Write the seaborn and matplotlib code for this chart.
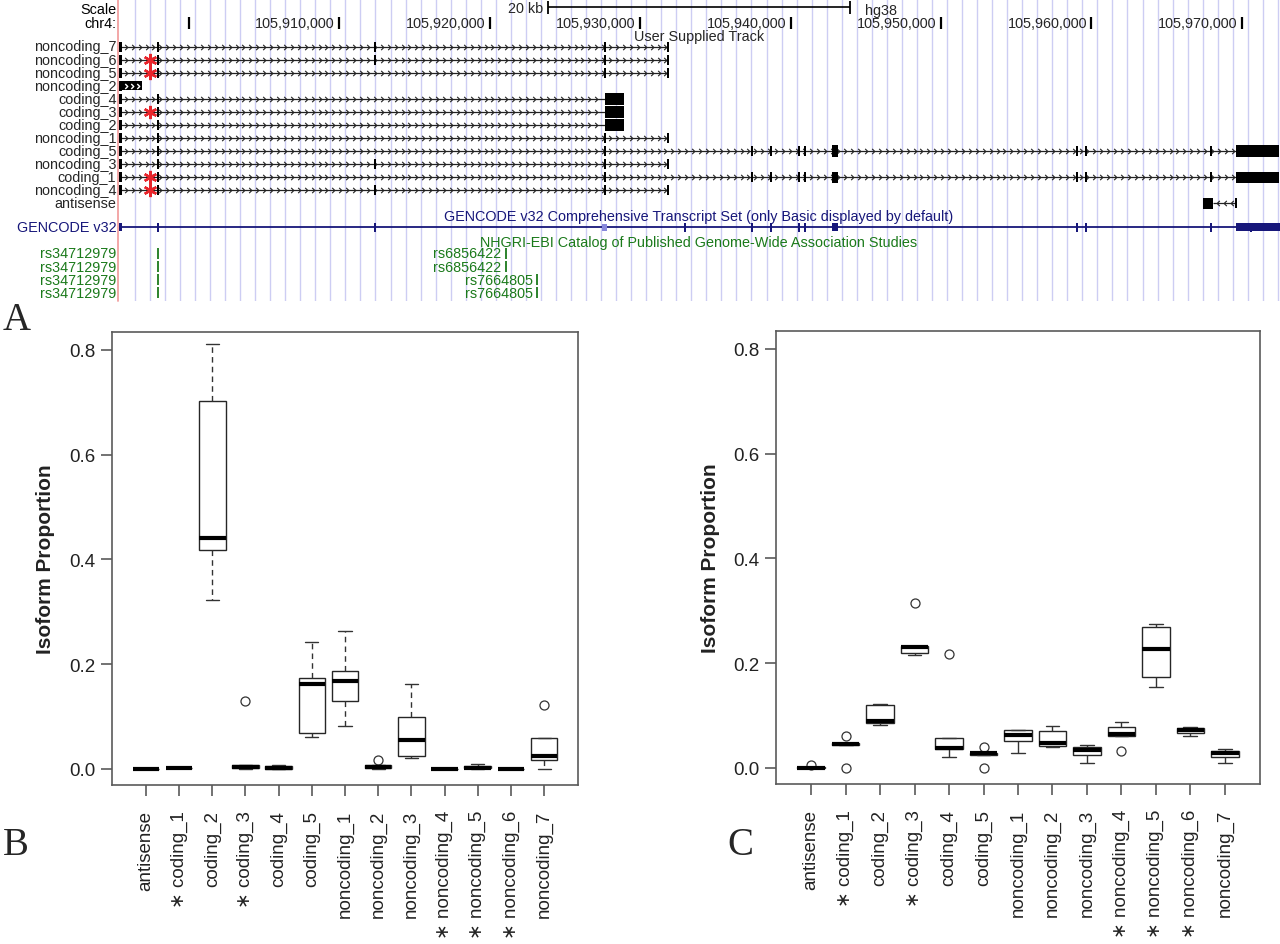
import numpy as np
import pandas as pd
import matplotlib
matplotlib.use("Agg")
import matplotlib.pyplot as plt
from matplotlib.path import Path
from matplotlib.patches import Rectangle
import seaborn as sns

# ---------------- data: panels B and C ----------------
isoforms = ["antisense", "coding_1", "coding_2", "coding_3", "coding_4", "coding_5",
            "noncoding_1", "noncoding_2", "noncoding_3", "noncoding_4", "noncoding_5",
            "noncoding_6", "noncoding_7"]
starred = ["coding_1", "coding_3", "noncoding_4", "noncoding_5", "noncoding_6"]

# five observed proportions per isoform (sorted low -> high), panel B
b_v1 = [0.0, 0.001, 0.323, 0.000, 0.0000, 0.060, 0.082, 0.000, 0.020, 0.0, 0.000, 0.0, 0.000]
b_v2 = [0.0, 0.001, 0.418, 0.001, 0.0005, 0.068, 0.129, 0.002, 0.025, 0.0, 0.001, 0.0, 0.017]
b_v3 = [0.0, 0.001, 0.441, 0.003, 0.0020, 0.162, 0.168, 0.004, 0.054, 0.0, 0.002, 0.0, 0.025]
b_v4 = [0.0, 0.001, 0.703, 0.007, 0.0050, 0.173, 0.186, 0.007, 0.099, 0.0, 0.005, 0.0, 0.058]
b_v5 = [0.0, 0.001, 0.812, 0.129, 0.0070, 0.243, 0.263, 0.017, 0.161, 0.0, 0.009, 0.0, 0.1225]

# panel C
c_v1 = [0.0,    0.0,    0.082, 0.2146, 0.021,  0.0,    0.029,  0.0395, 0.0096, 0.032,  0.154,  0.0605, 0.0096]
c_v2 = [0.0,    0.043,  0.085, 0.2200, 0.035,  0.025,  0.051,  0.0414, 0.0242, 0.0605, 0.174,  0.0656, 0.021]
c_v3 = [0.0005, 0.045,  0.089, 0.2300, 0.0376, 0.0275, 0.0624, 0.0478, 0.0330, 0.0637, 0.2274, 0.0730, 0.0287]
c_v4 = [0.001,  0.048,  0.120, 0.2325, 0.056,  0.029,  0.0713, 0.0700, 0.0389, 0.0777, 0.2688, 0.0750, 0.032]
c_v5 = [0.005,  0.0605, 0.122, 0.3150, 0.2166, 0.039,  0.0730, 0.0796, 0.0440, 0.0880, 0.2750, 0.0777, 0.035]

y_ticks = [0.0, 0.2, 0.4, 0.6, 0.8]
y_tick_labels = ["0.0", "0.2", "0.4", "0.6", "0.8"]
y_label = "Isoform Proportion"

# ---------------- data: panel A (genome browser, kb from chr4:105,900,000) ----------------
view_kb = [-4.72, 72.54]
chr_ticks_kb = [0, 10, 20, 30, 40, 50, 60, 70]
chr_tick_labels = ["", "105,910,000", "105,920,000", "105,930,000", "105,940,000",
                   "105,950,000", "105,960,000", "105,970,000"]
scale_bar_kb = [23.87, 43.95]
grid_kb = list(np.arange(-3.6, 72.6, 1.0))

track_names = ["noncoding_7", "noncoding_6", "noncoding_5", "noncoding_2", "coding_4",
               "coding_3", "coding_2", "noncoding_1", "coding_5", "noncoding_3",
               "coding_1", "noncoding_4", "antisense"]
track_start = [-4.55] * 12 + [68.09]
track_end = [31.85, 31.85, 31.85, -3.15, 27.66, 27.66, 27.66, 31.85, 69.61, 31.85, 69.61, 31.85, 69.61]
track_strand = ["+"] * 12 + ["-"]
track_exons = [
    [-2.06, 12.37, 27.66, 31.85],
    [-2.06, 12.37, 27.66, 31.85],
    [-2.06, 27.66, 31.85],
    [],
    [-2.06],
    [-2.06],
    [-2.06],
    [-2.06, 27.66, 31.85],
    [-2.06, 27.66, 37.43, 38.70, 40.56, 40.96, 59.04, 59.64, 67.95],
    [-2.06, 12.37, 27.66, 31.85],
    [-2.06, 27.66, 37.43, 38.70, 40.56, 40.96, 59.04, 59.64, 67.95],
    [-2.06, 12.37, 27.66, 31.85],
    [69.61],
]
track_first_exon = [(-4.66, -4.44)] * 12 + [None]
track_cds = [[], [], [], [], [(27.66, 28.92)], [(27.66, 28.92)], [(27.66, 28.92)], [],
             [(42.75, 43.15), (69.61, 72.45)], [], [(42.75, 43.15), (69.61, 72.45)], [],
             [(67.42, 68.09)]]
track_nc_blocks = [[], [], [], [(-4.6, -3.15)], [], [], [], [], [], [], [], [], []]
snp_star_kb = -2.59
snp_star_tracks = ["noncoding_6", "noncoding_5", "coding_3", "coding_1", "noncoding_4"]

gencode_exons = [-2.06, 12.37, 32.98, 37.43, 38.70, 40.56, 40.96, 59.04, 59.64, 67.95, 70.6]
gencode_blocks = [(-4.66, -4.44), (42.75, 43.15), (69.61, 72.54)]
gencode_light = [(27.45, 27.8)]

gwas_names = ["rs34712979", "rs34712979", "rs34712979", "rs34712979",
              "rs6856422", "rs6856422", "rs7664805", "rs7664805"]
gwas_kb = [-2.06, -2.06, -2.06, -2.06, 21.08, 21.08, 23.14, 23.14]
gwas_row = [0, 1, 2, 3, 0, 1, 2, 3]

# ---------------- style ----------------
sns.set_style("white")
plt.rcParams["font.family"] = ["Liberation Sans", "DejaVu Sans"]

W, H = 1280, 945
fig = plt.figure(figsize=(W / 100, H / 100), dpi=100)

def fax(l, t, r, b):
    return fig.add_axes([l / W, 1 - b / H, (r - l) / W, (b - t) / H])

# ================= Panel A =================
axA = fax(118, 0, 1280, 302)
axA.set_xlim(*view_kb)
axA.set_ylim(302, 0)
axA.axis("off")

navy = "#17177a"
green = "#1b7a1b"
dark = "#222222"
fsA = 10.4

axA.vlines(grid_kb, 0, 302, color="#cdcdf3", lw=1.0, zorder=0)
axA.axvline(view_kb[0] + 0.03, color="#f2a0a0", lw=1.3, zorder=1, clip_on=False)

lab_x = view_kb[0] - 0.1
axA.text(lab_x, 10, "Scale", ha="right", va="center", fontsize=fsA, color="black", clip_on=False)
axA.text(lab_x, 24.5, "chr4:", ha="right", va="center", fontsize=fsA, color="black", clip_on=False)

# scale bar
axA.hlines(8, scale_bar_kb[0], scale_bar_kb[1], color="black", lw=1.2)
axA.vlines(scale_bar_kb, 2, 15, color="black", lw=1.3)
axA.text(scale_bar_kb[0] - 0.3, 9, "20 kb", ha="right", va="center", fontsize=fsA)
axA.text(scale_bar_kb[1] + 1.0, 11, "hg38", ha="left", va="center", fontsize=fsA)

# coordinate ruler
axA.vlines(chr_ticks_kb, 18, 30, color="black", lw=1.6)
for k, lab in zip(chr_ticks_kb, chr_tick_labels):
    if lab:
        axA.text(k - 0.3, 24.5, lab, ha="right", va="center", fontsize=fsA)

mid_kb = (view_kb[0] + view_kb[1]) / 2
axA.text(mid_kb, 37, "User Supplied Track", ha="center", va="center", fontsize=fsA)

chev_f = Path([(-0.5, -1), (0.5, 0), (-0.5, 1)], [Path.MOVETO, Path.LINETO, Path.LINETO])
chev_r = Path([(0.5, -1), (-0.5, 0), (0.5, 1)], [Path.MOVETO, Path.LINETO, Path.LINETO])

row_y0, row_dy = 47.5, 13.08
for i, name in enumerate(track_names):
    y = row_y0 + i * row_dy
    axA.text(lab_x, y, name, ha="right", va="center", fontsize=fsA, clip_on=False)
    s, e = track_start[i], track_end[i]
    marker = chev_f if track_strand[i] == "+" else chev_r
    if e - s > 0.5 and not track_nc_blocks[i]:
        axA.hlines(y, s, e, color=dark, lw=0.9, zorder=2)
        xs = np.arange(s + 0.35, e - 0.15, 0.46)
        axA.plot(xs, np.full(len(xs), y), ls="none", marker=marker, ms=3.8,
                 mew=0.8, mec=dark, mfc="none", zorder=2)
    fe = track_first_exon[i]
    if fe:
        axA.add_patch(Rectangle((fe[0], y - 5), fe[1] - fe[0], 10, color="black", lw=0, zorder=3))
    for ex in track_exons[i]:
        axA.add_patch(Rectangle((ex - 0.06, y - 5), 0.12, 10, color="black", lw=0, zorder=3))
    for a, b in track_cds[i]:
        axA.add_patch(Rectangle((a, y - 5.7), b - a, 11.4, color="black", lw=0, zorder=3))
    for a, b in track_nc_blocks[i]:
        axA.add_patch(Rectangle((a, y - 4.3), b - a, 8.6, color="black", lw=0, zorder=3))
        xs = np.arange(a + 0.4, b - 0.1, 0.4)
        axA.plot(xs, np.full(len(xs), y), ls="none", marker=chev_f, ms=3.6,
                 mew=1.0, mec="white", mfc="none", zorder=4)
    if name in snp_star_tracks:
        axA.plot([snp_star_kb], [y], ls="none", marker=(6, 2, 0), ms=9.5, mew=1.7,
                 color="#e8252b", zorder=5)

# GENCODE
yg = 228
axA.text(mid_kb, 217, "GENCODE v32 Comprehensive Transcript Set (only Basic displayed by default)",
         ha="center", va="center", fontsize=fsA, color=navy)
axA.text(lab_x, yg, "GENCODE v32", ha="right", va="center", fontsize=fsA, color=navy, clip_on=False)
axA.hlines(yg, -4.55, view_kb[1], color=navy, lw=1.3, zorder=2)
for ex in gencode_exons:
    axA.add_patch(Rectangle((ex - 0.06, yg - 4.5), 0.12, 9, color=navy, lw=0, zorder=3))
for a, b in gencode_blocks:
    axA.add_patch(Rectangle((a, yg - 4), b - a, 8, color=navy, lw=0, zorder=3))
for a, b in gencode_light:
    axA.add_patch(Rectangle((a, yg - 3.5), b - a, 7, color="#8787dc", lw=0, zorder=3))

# GWAS
axA.text(mid_kb, 243, "NHGRI-EBI Catalog of Published Genome-Wide Association Studies",
         ha="center", va="center", fontsize=fsA, color=green)
gw_y0, gw_dy = 254.5, 13.1
for nm, k, r in zip(gwas_names, gwas_kb, gwas_row):
    y = gw_y0 + r * gw_dy
    axA.vlines(k, y - 5.5, y + 5.5, color=green, lw=1.3)
    if k < 0:
        axA.text(lab_x, y, nm, ha="right", va="center", fontsize=fsA, color=green, clip_on=False)
    else:
        axA.text(k - 0.3, y, nm, ha="right", va="center", fontsize=fsA, color=green)

# ================= Panels B & C =================
def long_df(cols):
    rows = []
    for i, name in enumerate(isoforms):
        for col in cols:
            rows.append((name, col[i]))
    return pd.DataFrame(rows, columns=["isoform", "proportion"])

dfB = long_df([b_v1, b_v2, b_v3, b_v4, b_v5])
dfC = long_df([c_v1, c_v2, c_v3, c_v4, c_v5])

xlabels = [("\u2217 " + n) if n in starred else n for n in isoforms]
frame_col = "#5a5a5a"
txt_col = "#222222"

def draw_box(ax, df, whisk_ls):
    sns.boxplot(data=df, x="isoform", y="proportion", order=isoforms, ax=ax,
                width=0.8, color="white", linecolor="#262626", linewidth=1.0,
                whis=1.5, fliersize=6.5,
                medianprops={"linewidth": 3.0, "color": "black"},
                whiskerprops={"linestyle": whisk_ls, "color": "#333333"},
                capprops={"color": "#333333"},
                flierprops={"marker": "o", "markerfacecolor": "none",
                            "markeredgecolor": "#333333", "markeredgewidth": 0.9})
    ax.set_xlim(-1.02, 13.02)
    ax.set_ylim(-0.031, 0.834)
    ax.set_yticks(y_ticks)
    ax.set_yticklabels(y_tick_labels)
    ax.set_xticks(range(len(isoforms)))
    ax.set_xticklabels(xlabels, rotation=90)
    ax.set_xlabel("")
    ax.set_ylabel(y_label, fontsize=15, fontweight="bold", color=txt_col)
    for sp in ax.spines.values():
        sp.set_visible(True)
        sp.set_color(frame_col)
        sp.set_linewidth(1.2)
    ax.tick_params(axis="both", which="major", length=8, width=1.2, color=frame_col,
                   labelsize=13.5, labelcolor=txt_col, pad=4, left=True, bottom=True)
    ax.tick_params(axis="x", pad=10)
    ax.grid(False)

axB = fax(112, 333, 578, 786)
draw_box(axB, dfB, (0, (4, 3)))
axB.yaxis.set_label_coords(-0.122, 0.5)

axC = fax(776, 332, 1260, 785)
draw_box(axC, dfC, "-")
axC.yaxis.set_label_coords(-0.115, 0.5)

# panel letters
letter_kw = dict(fontsize=28, family=["Liberation Serif", "DejaVu Serif"], va="baseline", ha="left")
fig.text(3 / W, 1 - 330 / H, "A", **letter_kw)
fig.text(3 / W, 1 - 855 / H, "B", **letter_kw)
fig.text(727 / W, 1 - 855 / H, "C", **letter_kw)

fig.savefig("out.png", dpi=100)
